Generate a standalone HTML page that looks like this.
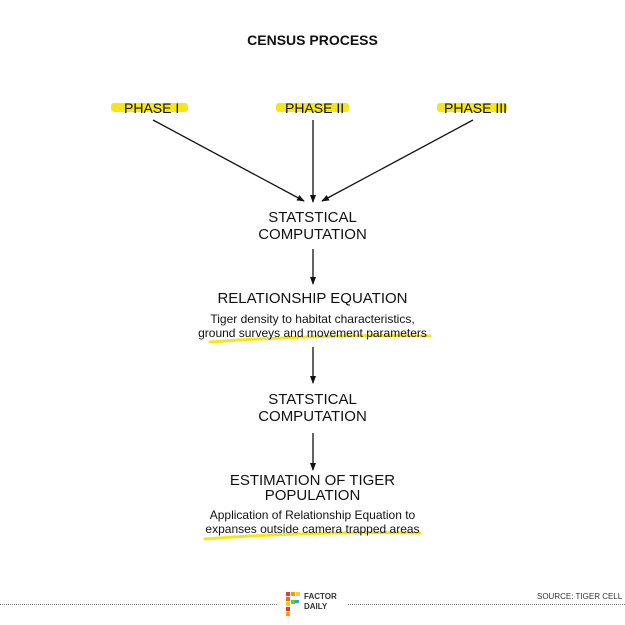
<!DOCTYPE html>
<html><head><style>
body{margin:0;width:625px;height:625px;background:#fff;position:relative;overflow:hidden;font-family:"Liberation Sans",sans-serif;color:#111}
.t{position:absolute;left:0;width:625px;text-align:center;white-space:nowrap}
.a{position:absolute;white-space:nowrap}
</style></head><body>
<svg width="625" height="625" style="position:absolute;left:0;top:0">
<defs><marker id="m" markerWidth="8" markerHeight="8" refX="7" refY="4" orient="auto" markerUnits="userSpaceOnUse"><path d="M0,1 L8,4 L0,7z" fill="#111"/></marker></defs>
<g fill="#f4e61a">
<rect x="111" y="103" width="77" height="9" rx="3"/>
<rect x="276" y="103" width="73" height="9" rx="3"/>
<rect x="437" y="103" width="70" height="9" rx="3"/>
</g>
<g stroke="#f4e61a" stroke-width="3" fill="none" stroke-linecap="round">
<path d="M210,342 Q320,334 430,336"/>
<path d="M205,539 Q310,531 420,533"/>
</g>
<g stroke="#111" stroke-width="1.3" fill="none" marker-end="url(#m)">
<line x1="153" y1="120" x2="304" y2="201"/>
<line x1="313" y1="120" x2="313" y2="202"/>
<line x1="473" y1="120" x2="322" y2="201"/>
<line x1="313" y1="249" x2="313" y2="284"/>
<line x1="313" y1="347" x2="313" y2="383"/>
<line x1="313" y1="433" x2="313" y2="470"/>
</g>
<g stroke="#777" stroke-width="1" stroke-dasharray="1,1">
<line x1="0" y1="604.5" x2="278" y2="604.5"/>
<line x1="348" y1="604.5" x2="625" y2="604.5"/>
</g>
<g>
<rect x="286" y="592" width="4" height="4" fill="#e33"/><rect x="291" y="592" width="4" height="4" fill="#f90"/><rect x="296" y="592" width="4" height="4" fill="#fc3"/>
<rect x="286" y="597" width="4" height="4" fill="#f60"/><rect x="291" y="600" width="4" height="4" fill="#6c3"/><rect x="295" y="600" width="4" height="3" fill="#39f"/>
<rect x="286" y="602" width="4" height="4" fill="#fc0"/><rect x="286" y="607" width="4" height="4" fill="#e33"/><rect x="286" y="612" width="4" height="4" fill="#f90"/>
</g>
</svg>
<div class="t" style="top:32px;font-size:14px;font-weight:bold">CENSUS PROCESS</div>
<div class="a" style="left:124px;top:100px;font-size:14px">PHASE I</div>
<div class="a" style="left:285px;top:100px;font-size:14px">PHASE II</div>
<div class="a" style="left:444px;top:100px;font-size:14px">PHASE III</div>
<div class="t" style="top:209px;font-size:15px;line-height:17px">STATSTICAL<br>COMPUTATION</div>
<div class="t" style="top:290px;font-size:15px">RELATIONSHIP EQUATION</div>
<div class="t" style="top:312px;font-size:12px;line-height:14px">Tiger density to habitat characteristics,<br>ground surveys and movement parameters</div>
<div class="t" style="top:391px;font-size:15px;line-height:17px">STATSTICAL<br>COMPUTATION</div>
<div class="t" style="top:473px;font-size:15px;line-height:15px">ESTIMATION OF TIGER<br>POPULATION</div>
<div class="t" style="top:508px;font-size:12px;line-height:14px">Application of Relationship Equation to<br>expanses outside camera trapped areas</div>
<div class="a" style="left:304px;top:592px;font-size:8px;font-weight:bold;line-height:10px;color:#333">FACTOR<br>DAILY</div>
<div class="a" style="left:537px;top:592px;font-size:8px;color:#333">SOURCE: TIGER CELL</div>
</body></html>
